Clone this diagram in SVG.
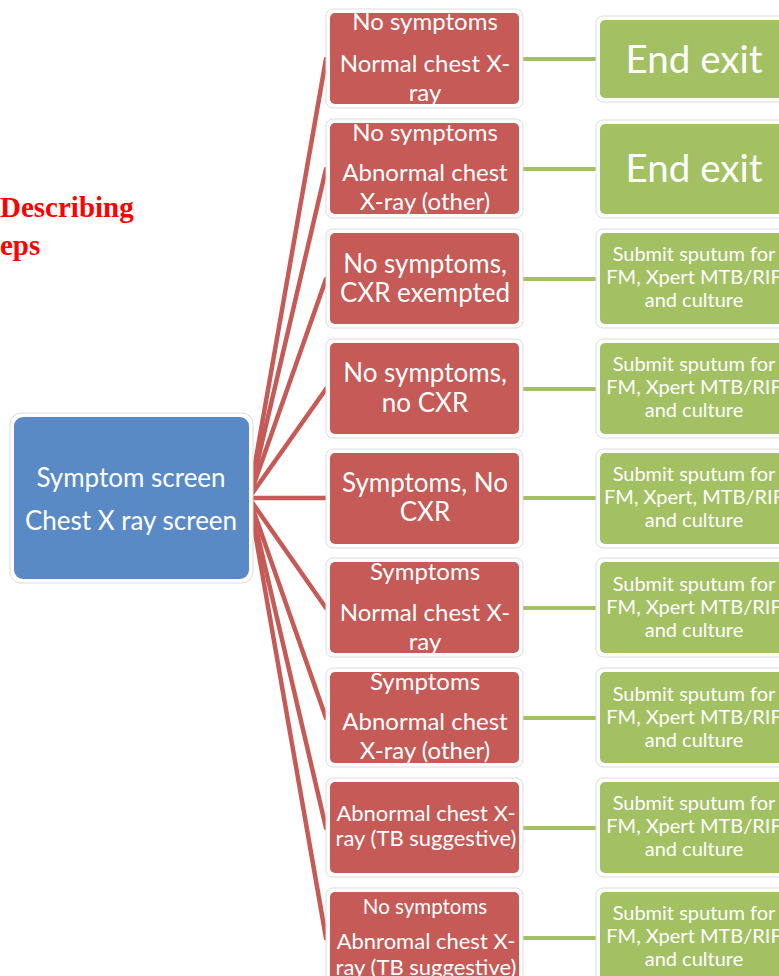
<svg xmlns="http://www.w3.org/2000/svg" width="779" height="976" viewBox="0 0 779 976">
<style>
.halo{fill:#fff;stroke:#dcdcdc;stroke-width:1}
.red{fill:#c55a57}
.green{fill:#a3c163}
.blue{fill:#5a8ac6}
.t{font-family:Lato,"Liberation Sans",sans-serif;fill:#fff;text-anchor:middle}
.rc{stroke:#c55a57;stroke-width:4.5;fill:none;stroke-linecap:round}
.gc{stroke:#a3c163;stroke-width:4;fill:none}
.title{font-family:"Liberation Serif",serif;font-weight:bold;fill:#ff0000;font-size:29px}
.a{font-size:24px}
.b{font-size:26px}
.c{font-size:22px}
.s{font-size:20px}
.e{font-size:38.5px}
</style>
<rect width="779" height="976" fill="#fff"/>
<text class="title" x="0" y="217">Describing</text>
<text class="title" x="0" y="255">eps</text>

<g id="connectors">
<path class="rc" d="M249 498 L326 59"/>
<path class="rc" d="M249 498 L326 169"/>
<path class="rc" d="M249 498 L326 279"/>
<path class="rc" d="M249 498 L326 389"/>
<path class="rc" d="M249 498 L326 498"/>
<path class="rc" d="M249 498 L326 608"/>
<path class="rc" d="M249 498 L326 718"/>
<path class="rc" d="M249 498 L326 828"/>
<path class="rc" d="M249 498 L326 938"/>
<path class="gc" d="M519 59 H600"/>
<path class="gc" d="M519 169 H600"/>
<path class="gc" d="M519 279 H600"/>
<path class="gc" d="M519 389 H600"/>
<path class="gc" d="M519 498 H600"/>
<path class="gc" d="M519 608 H600"/>
<path class="gc" d="M519 718 H600"/>
<path class="gc" d="M519 828 H600"/>
<path class="gc" d="M519 938 H600"/>
</g>

<g id="root">
<rect class="halo" x="10" y="413" width="243" height="170" rx="11"/>
<rect class="blue" x="14" y="417" width="235" height="162" rx="9"/>
<text class="t b" x="131" y="487">Symptom screen</text>
<text class="t b" x="131" y="530">Chest X ray screen</text>
</g>

<g id="r1">
<rect class="halo" x="326" y="9" width="197" height="99" rx="7"/>
<rect class="red" x="330" y="13" width="189" height="91" rx="5"/>
<text class="t a" x="425" y="30">No symptoms</text>
<text class="t a" x="425" y="72">Normal chest X-</text>
<text class="t a" x="425" y="101">ray</text>
</g>
<g id="r2">
<rect class="halo" x="326" y="119" width="197" height="99" rx="7"/>
<rect class="red" x="330" y="123" width="189" height="91" rx="5"/>
<text class="t a" x="425" y="141">No symptoms</text>
<text class="t a" x="425" y="181">Abnormal chest</text>
<text class="t a" x="425" y="210">X-ray (other)</text>
</g>
<g id="r3">
<rect class="halo" x="326" y="229" width="197" height="99" rx="7"/>
<rect class="red" x="330" y="233" width="189" height="91" rx="5"/>
<text class="t b" x="425" y="273">No symptoms,</text>
<text class="t b" x="425" y="302">CXR exempted</text>
</g>
<g id="r4">
<rect class="halo" x="326" y="339" width="197" height="99" rx="7"/>
<rect class="red" x="330" y="343" width="189" height="91" rx="5"/>
<text class="t b" x="425" y="382">No symptoms,</text>
<text class="t b" x="425" y="412">no CXR</text>
</g>
<g id="r5">
<rect class="halo" x="326" y="449" width="197" height="99" rx="7"/>
<rect class="red" x="330" y="453" width="189" height="91" rx="5"/>
<text class="t b" x="425" y="492">Symptoms, No</text>
<text class="t b" x="425" y="521">CXR</text>
</g>
<g id="r6">
<rect class="halo" x="326" y="558" width="197" height="99" rx="7"/>
<rect class="red" x="330" y="562" width="189" height="91" rx="5"/>
<text class="t a" x="425" y="580">Symptoms</text>
<text class="t a" x="425" y="621">Normal chest X-</text>
<text class="t a" x="425" y="650">ray</text>
</g>
<g id="r7">
<rect class="halo" x="326" y="668" width="197" height="99" rx="7"/>
<rect class="red" x="330" y="672" width="189" height="91" rx="5"/>
<text class="t a" x="425" y="690">Symptoms</text>
<text class="t a" x="425" y="730">Abnormal chest</text>
<text class="t a" x="425" y="759">X-ray (other)</text>
</g>
<g id="r8">
<rect class="halo" x="326" y="778" width="197" height="99" rx="7"/>
<rect class="red" x="330" y="782" width="189" height="91" rx="5"/>
<text class="t c" x="426" y="821">Abnormal chest X-</text>
<text class="t c" x="426" y="846">ray (TB suggestive)</text>
</g>
<g id="r9">
<rect class="halo" x="326" y="888" width="197" height="99" rx="7"/>
<rect class="red" x="330" y="892" width="189" height="91" rx="5"/>
<text class="t" x="425" y="914" font-size="20.5">No symptoms</text>
<text class="t c" x="426" y="949">Abnromal chest X-</text>
<text class="t c" x="426" y="975">ray (TB suggestive)</text>
</g>

<g id="g1">
<rect class="halo" x="596" y="16" width="195" height="86" rx="7"/>
<rect class="green" x="600" y="20" width="187" height="78" rx="5"/>
<text class="t e" x="694" y="73">End exit</text>
</g>
<g id="g2">
<rect class="halo" x="596" y="120" width="195" height="98" rx="7"/>
<rect class="green" x="600" y="124" width="187" height="90" rx="5"/>
<text class="t e" x="694" y="182">End exit</text>
</g>
<g id="g3">
<rect class="halo" x="596" y="229" width="195" height="99" rx="7"/>
<rect class="green" x="600" y="233" width="187" height="91" rx="5"/>
<text class="t s" x="694" y="261">Submit sputum for</text>
<text class="t s" x="694" y="284">FM, Xpert MTB/RIF</text>
<text class="t s" x="694" y="307">and culture</text>
</g>
<g id="g4">
<rect class="halo" x="596" y="339" width="195" height="99" rx="7"/>
<rect class="green" x="600" y="343" width="187" height="91" rx="5"/>
<text class="t s" x="694" y="371">Submit sputum for</text>
<text class="t s" x="694" y="394">FM, Xpert MTB/RIF</text>
<text class="t s" x="694" y="417">and culture</text>
</g>
<g id="g5">
<rect class="halo" x="596" y="449" width="195" height="99" rx="7"/>
<rect class="green" x="600" y="453" width="187" height="91" rx="5"/>
<text class="t s" x="694" y="481">Submit sputum for</text>
<text class="t s" x="694" y="504">FM, Xpert, MTB/RIF</text>
<text class="t s" x="694" y="527">and culture</text>
</g>
<g id="g6">
<rect class="halo" x="596" y="558" width="195" height="99" rx="7"/>
<rect class="green" x="600" y="562" width="187" height="91" rx="5"/>
<text class="t s" x="694" y="591">Submit sputum for</text>
<text class="t s" x="694" y="614">FM, Xpert MTB/RIF</text>
<text class="t s" x="694" y="637">and culture</text>
</g>
<g id="g7">
<rect class="halo" x="596" y="668" width="195" height="99" rx="7"/>
<rect class="green" x="600" y="672" width="187" height="91" rx="5"/>
<text class="t s" x="694" y="701">Submit sputum for</text>
<text class="t s" x="694" y="724">FM, Xpert MTB/RIF</text>
<text class="t s" x="694" y="747">and culture</text>
</g>
<g id="g8">
<rect class="halo" x="596" y="778" width="195" height="99" rx="7"/>
<rect class="green" x="600" y="782" width="187" height="91" rx="5"/>
<text class="t s" x="694" y="810">Submit sputum for</text>
<text class="t s" x="694" y="833">FM, Xpert MTB/RIF</text>
<text class="t s" x="694" y="856">and culture</text>
</g>
<g id="g9">
<rect class="halo" x="596" y="888" width="195" height="99" rx="7"/>
<rect class="green" x="600" y="892" width="187" height="91" rx="5"/>
<text class="t s" x="694" y="920">Submit sputum for</text>
<text class="t s" x="694" y="943">FM, Xpert MTB/RIF</text>
<text class="t s" x="694" y="966">and culture</text>
</g>
</svg>
